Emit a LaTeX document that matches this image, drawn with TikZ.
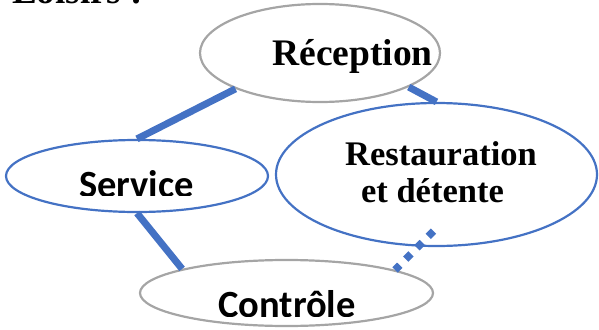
\documentclass[tikz,border=0pt]{standalone}
\usepackage{fontspec}
\setmainfont{Liberation Serif}
\newfontfamily\carlito{Carlito}
\usepackage{tikz}
\usetikzlibrary{shapes.geometric}
\definecolor{officeblue}{HTML}{4472C4}
\definecolor{officegray}{HTML}{A5A5A5}

\begin{document}
\begin{tikzpicture}[x=1pt, y=-1pt,
  bluebubble/.style={ellipse, draw=officeblue, line width=2.2pt, inner sep=0pt},
  graybubble/.style={ellipse, draw=officegray, line width=2.2pt, inner sep=0pt},
  seriflabel/.style={font=\bfseries\fontsize{#1}{37}\selectfont, inner sep=0pt, anchor=base, align=center},
  sanslabel/.style={font=\carlito\bfseries\fontsize{38.5}{40}\selectfont, inner sep=0pt, anchor=base},
  link/.style={draw=officeblue, line width=7pt},
  dotlink/.style={draw=officeblue, line width=7.5pt, dash pattern=on 7.5pt off 8.5pt}]
  \useasboundingbox (0,0) rectangle (599,329);

  % bubbles
  \node[graybubble, minimum width=240pt, minimum height=98pt] (rec) at (320,53) {};
  \node[bluebubble, minimum width=321pt, minimum height=143pt] (rst) at (436.5,174.5) {};
  \node[bluebubble, minimum width=262pt, minimum height=72pt] (srv) at (137,176) {};
  \node[graybubble, minimum width=293pt, minimum height=66pt] (ctl) at (286.5,293) {};

  % labels
  \node[seriflabel=37, anchor=base west] (title) at (12,4) {Loisirs :};
  \node[seriflabel=37.5] (rectext) at (352.5,65) {Réception};
  \node[seriflabel=34.5] (rsttext) at (441,202) {Restauration\\et détente\hspace*{17pt}};
  \begin{scope}
    \clip (0,0) rectangle (599,195);
    \node[sanslabel] (srvtext) at (136.5,197) {Service};
  \end{scope}
  \begin{scope}
    \clip (0,0) rectangle (599,316.5);
    \node[sanslabel] (ctltext) at (287,317) {Contrôle};
  \end{scope}

  % links
  \coordinate (dotstart) at ([shift={(-3,-16)}]rst.south);
  \draw[link] (rec.203) -- (srv.north);
  \draw[link] (rec.339) -- (rst.north);
  \draw[link] (srv.south) -- (ctl.167);
  \draw[dotlink] (dotstart) -- (ctl.12);
\end{tikzpicture}
\end{document}
